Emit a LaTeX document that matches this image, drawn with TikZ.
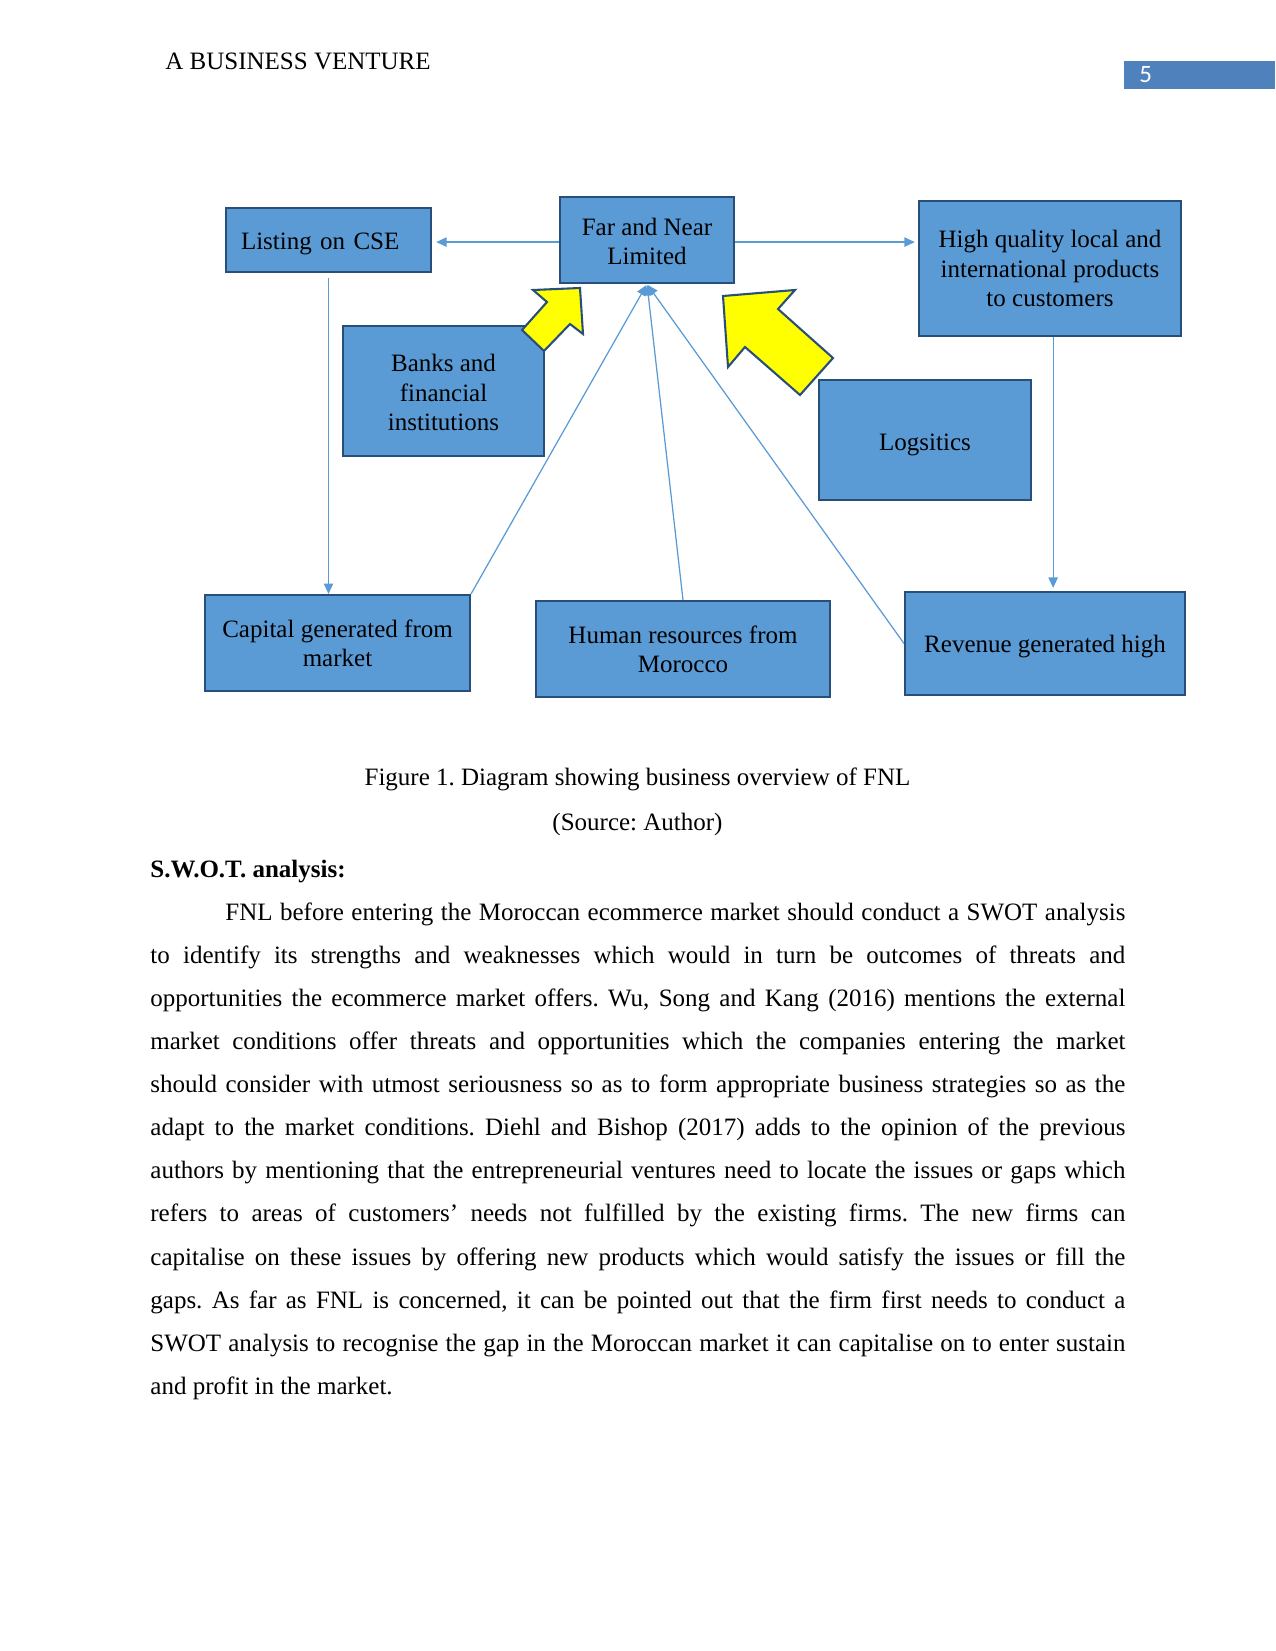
\documentclass[tikz,border=0pt]{standalone}
\usepackage{fontspec}
\setmainfont{Liberation Serif}
\newfontfamily\numfont{Carlito}
\usepackage{xcolor}
\usepackage{tikz}
\usetikzlibrary{arrows.meta, positioning}
\definecolor{boxblue}{RGB}{91,155,213}
\definecolor{boxedge}{RGB}{40,78,122}
\definecolor{linkblue}{RGB}{91,155,213}
\definecolor{pageblue}{RGB}{79,129,189}
\definecolor{arrowyellow}{RGB}{255,255,0}
\frenchspacing
\newcommand{\toprule}{\rule{0pt}{9.8pt}}

\begin{document}
\begin{tikzpicture}[x=0.48pt, y=-0.48pt,
    fnlbox/.style={draw=boxedge, fill=boxblue, line width=1pt, align=center,
        inner sep=0pt, font=\fontsize{12}{14}\selectfont},
    oneline/.style={text height=12.2pt, text depth=2.6pt},
    link/.style={draw=linkblue, line width=0.6pt, -{Triangle[length=5pt, width=4.5pt]}},
    bigarrow/.style={fill=arrowyellow, draw=boxedge, line width=1pt, line join=miter},
    bodytext/.style={inner sep=0pt, font=\fontsize{12}{14}\selectfont}]
    \useasboundingbox (0,0) rectangle (1275,1651);

    % running head
    \node[bodytext, anchor=base west] (head) at (165,70) {A BUSINESS VENTURE};
    \fill[pageblue] (1124,61) rectangle (1275,89);
    \node[anchor=base west, inner sep=0pt, text=white,
          font=\numfont\fontsize{12}{14}\selectfont] (pagenum) at (1139,83) {5};

    % overview boxes
    \node[fnlbox, minimum width=83.5pt, minimum height=41.3pt] (far) at (647,240)
          {\toprule Far and Near\\Limited};
    \node[fnlbox, oneline, align=left, text width=84pt, inner xsep=7.2pt,
          minimum height=30.7pt] (listing) at (328.5,240) {Listing on CSE};
    \node[fnlbox, minimum width=125.8pt, minimum height=64.8pt] (high) at (1050,268.5)
          {High quality local and\\international products\\to customers};
    \node[fnlbox, minimum width=96.5pt, minimum height=62.4pt] (banks) at (443.5,391)
          {\toprule Banks and\\financial\\institutions};
    \node[fnlbox, oneline, minimum width=101.8pt, minimum height=57.6pt] (logistics) at (925,440) {Logsitics};
    \node[fnlbox, minimum width=127.2pt, minimum height=46.1pt] (capital) at (337.5,643)
          {Capital generated from\\market};
    \node[fnlbox, minimum width=141.1pt, minimum height=46.1pt] (human) at (683,649)
          {Human resources from\\Morocco};
    \node[fnlbox, oneline, text height=11.2pt, minimum width=134.4pt, minimum height=49.4pt] (revenue)
          at (1045,643.5) {Revenue generated high};

    % connectors
    \draw[link, shorten >=2pt] ([yshift=-1pt]far.west) -- ([yshift=-1pt]listing.east);
    \draw[link, shorten >=1.5pt] ([yshift=-1pt]far.east) -- ([yshift=-1pt]far.east -| high.west);
    \draw[link, shorten <=2.5pt] (listing.south) -- (listing.south |- capital.north);
    \draw[link, shorten >=1.5pt] ([xshift=1.5pt]high.south) -- ([xshift=1.5pt]high.south |- revenue.north);
    \draw[link, shorten >=0.5pt] (capital.north east) -- (far.south);
    \draw[link, shorten >=0.5pt] (human.north) -- (far.south);
    \draw[link, shorten >=0.5pt] (revenue.west) -- (far.south);

    % yellow block arrows
    \draw[bigarrow] (580,288) -- (533,290) -- (547,302) -- (522,330) -- (544,351)
          -- (570,324) -- (583,334) -- cycle;
    \draw[bigarrow] (723,296) -- (795,290) -- (778,309) -- (833,358) -- (800,395)
          -- (745,347) -- (728,367) -- cycle;

    % caption and text
    \node[bodytext, anchor=base] (caption) at (637.5,785)
          {Figure 1. Diagram showing business overview of FNL};
    \node[bodytext, anchor=base] (source) at (637.5,830) {(Source: Author)};
    \node[bodytext, anchor=base west, font=\fontsize{12}{14}\selectfont\bfseries] (swothead) at (150,877)
          {S.W.O.T. analysis:};
    \node[anchor=base west, inner sep=0pt, text width=468pt, align=justify,
          font=\fontsize{12}{20.7}\selectfont] (swot) at (150,920)
          {\hspace*{36pt}FNL before entering the Moroccan ecommerce market should conduct a SWOT analysis\linebreak
           to identify its strengths and weaknesses which would in turn be outcomes of threats and\linebreak
           opportunities the ecommerce market offers. Wu, Song and Kang (2016) mentions the external\linebreak
           market conditions offer threats and opportunities which the companies entering the market\linebreak
           should consider with utmost seriousness so as to form appropriate business strategies so as the\linebreak
           adapt to the market conditions. Diehl and Bishop (2017) adds to the opinion of the previous\linebreak
           authors by mentioning that the entrepreneurial ventures need to locate the issues or gaps which\linebreak
           refers to areas of customers’ needs not fulfilled by the existing firms. The new firms can\linebreak
           capitalise on these issues by offering new products which would satisfy the issues or fill the\linebreak
           gaps. As far as FNL is concerned, it can be pointed out that the firm first needs to conduct a\linebreak
           SWOT analysis to recognise the gap in the Moroccan market it can capitalise on to enter sustain\linebreak
           and profit in the market.};
\end{tikzpicture}
\end{document}
